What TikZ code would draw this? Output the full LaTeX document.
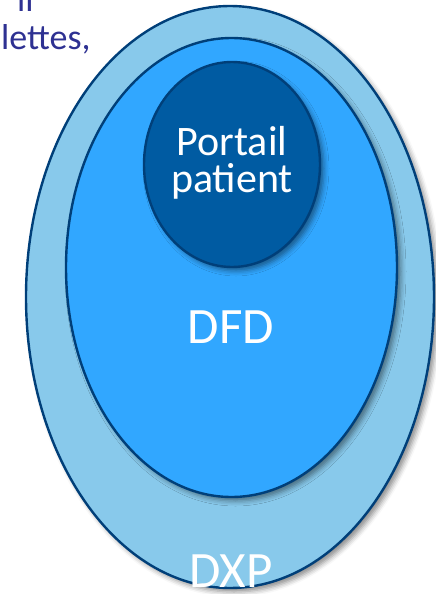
\documentclass[tikz,border=0pt]{standalone}
\usepackage{fontspec}
\setmainfont{Carlito}
\usetikzlibrary{shapes.geometric,shadows.blur}
\definecolor{ringlight}{HTML}{88C9EB}
\definecolor{ringmid}{HTML}{31A7FF}
\definecolor{ringdark}{HTML}{005BA2}
\definecolor{ringline}{HTML}{003F79}
\definecolor{captext}{HTML}{2E3192}
\tikzset{
  ring/.style={ellipse, draw=ringline, line width=2.4pt, inner sep=0pt,
    blur shadow={shadow xshift=4pt, shadow yshift=-4pt,
      shadow blur radius=5pt, shadow opacity=45}},
  lbltxt/.style={text=white, inner sep=0pt, anchor=base},
  captxt/.style={text=captext, inner sep=0pt, anchor=base west, font=\fontsize{36}{36}\selectfont}
}
\begin{document}
\begin{tikzpicture}[x=1pt,y=-1pt]
  \useasboundingbox (0,0) rectangle (436,594);
  \clip (0,0) rectangle (436,594);
  % caption lines above the ellipses
  \node[captxt] (capA) at (17,12) {il};
  \node[captxt] (capB) at (1,50) {lettes,};
  % nested ellipses
  \node[ring, fill=ringlight, minimum width=408pt, minimum height=582pt] (dxp) at (230,297) {};
  \node[ring, fill=ringmid, minimum width=331pt, minimum height=459pt] (dfd) at (231.5,267.5) {};
  \node[ring, fill=ringdark, minimum width=176pt, minimum height=205pt] (portail) at (232,164.5) {};
  % labels
  \node[lbltxt, font=\fontsize{42}{42}\selectfont] (lp1) at (232,155) {Portail};
  \node[lbltxt, font=\fontsize{42}{42}\selectfont] (lp2) at (232,192) {patient};
  \node[lbltxt, font=\fontsize{51}{51}\selectfont] (ldfd) at (231,343) {DFD};
  \node[lbltxt, font=\fontsize{51}{51}\selectfont] (ldxp) at (231,587) {DXP};
\end{tikzpicture}
\end{document}
